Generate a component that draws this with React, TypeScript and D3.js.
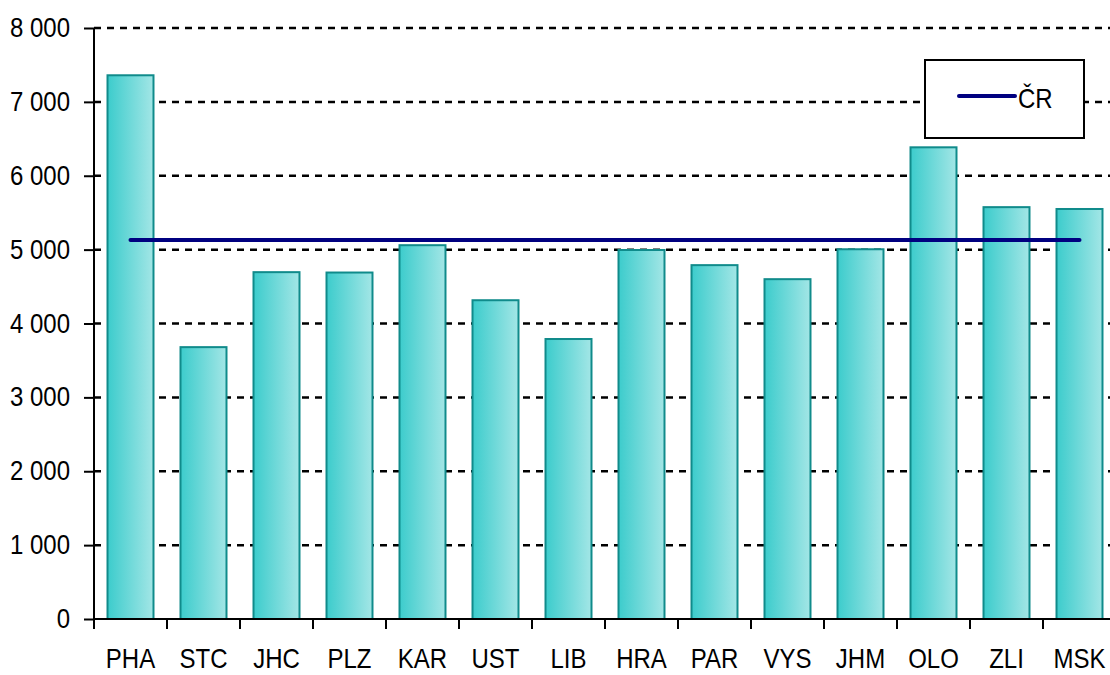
import React, { useEffect, useRef } from 'react'
import * as d3 from 'd3'

const regions = ['PHA', 'STC', 'JHC', 'PLZ', 'KAR', 'UST', 'LIB', 'HRA', 'PAR', 'VYS', 'JHM', 'OLO', 'ZLI', 'MSK']
const values = [7360, 3680, 4695, 4690, 5060, 4315, 3790, 4995, 4790, 4600, 5005, 6385, 5575, 5550]
const crValue = 5130
const yTicks = [0, 1000, 2000, 3000, 4000, 5000, 6000, 7000, 8000]

const W = 1110
const H = 675
const left = 94
const right = 1116
const top = 28
const bottom = 619
const font = 'Liberation Sans, Arial, sans-serif'
const stretch = 1.14

export default function App() {
  const svgRef = useRef<SVGSVGElement>(null)

  useEffect(() => {
    const svg = d3.select(svgRef.current)
    svg.selectAll('*').remove()

    const x = d3.scaleBand().domain(regions).range([left, right]).paddingInner(0.37).paddingOuter(0.185)
    const y = d3.scaleLinear().domain([0, 8000]).range([bottom, top])
    const fmt = (v: number) => d3.format(',')(v).replace(/,/g, ' ')

    const grad = svg.append('defs').append('linearGradient').attr('id', 'barGrad')
      .attr('x1', '0%').attr('x2', '100%').attr('y1', '0%').attr('y2', '0%')
    grad.append('stop').attr('offset', '0%').attr('stop-color', '#3ccccc')
    grad.append('stop').attr('offset', '100%').attr('stop-color', '#a3e6e6')

    // gridlines
    svg.append('g').selectAll('line').data(yTicks.filter(d => d > 0)).join('line')
      .attr('x1', left).attr('x2', right)
      .attr('y1', d => y(d)).attr('y2', d => y(d))
      .attr('stroke', '#000').attr('stroke-width', 2.5).attr('stroke-dasharray', '7 6')

    // bars
    svg.append('g').selectAll('rect').data(values).join('rect')
      .attr('x', (d, i) => x(regions[i])!)
      .attr('width', x.bandwidth())
      .attr('y', d => y(d))
      .attr('height', d => bottom - y(d))
      .attr('fill', 'url(#barGrad)')
      .attr('stroke', '#108b8b').attr('stroke-width', 2)

    // CR line
    const cx0 = x(regions[0])! + x.bandwidth() / 2
    const cx1 = x(regions[regions.length - 1])! + x.bandwidth() / 2
    svg.append('line')
      .attr('x1', cx0).attr('x2', cx1).attr('y1', y(crValue)).attr('y2', y(crValue))
      .attr('stroke', '#000080').attr('stroke-width', 4).attr('stroke-linecap', 'round')

    // y axis
    const yAxis = svg.append('g').attr('transform', `translate(${left},0)`)
      .call(d3.axisLeft(y).tickValues(yTicks).tickSize(10).tickFormat(() => ''))
    yAxis.select('.domain').attr('d', `M0,${top}V${bottom + 10}`).attr('stroke-width', 2)
    yAxis.selectAll('.tick line').attr('stroke-width', 2)
    svg.append('g').selectAll('text').data(yTicks).join('text')
      .attr('transform', d => `translate(${left - 24},${y(d) + 9}) scale(1,${stretch})`)
      .attr('text-anchor', 'end')
      .attr('font-family', font).attr('font-size', 24).attr('fill', '#000')
      .text(d => fmt(d))

    // x axis
    svg.append('line').attr('x1', left).attr('x2', right).attr('y1', bottom).attr('y2', bottom)
      .attr('stroke', '#000').attr('stroke-width', 2)
    const step = x.step()
    svg.append('g').selectAll('line').data(d3.range(1, regions.length)).join('line')
      .attr('x1', i => left + i * step).attr('x2', i => left + i * step)
      .attr('y1', bottom).attr('y2', bottom + 10)
      .attr('stroke', '#000').attr('stroke-width', 2)
    svg.append('g').selectAll('text').data(regions).join('text')
      .attr('transform', d => `translate(${x(d)! + x.bandwidth() / 2},668) scale(1,${stretch})`)
      .attr('text-anchor', 'middle')
      .attr('font-family', font).attr('font-size', 24).attr('fill', '#000')
      .text(d => d)

    // legend
    const lg = svg.append('g')
    lg.append('rect').attr('x', 925).attr('y', 60).attr('width', 159).attr('height', 78)
      .attr('fill', '#fff').attr('stroke', '#000').attr('stroke-width', 2)
    lg.append('line').attr('x1', 959).attr('x2', 1015).attr('y1', 96).attr('y2', 96)
      .attr('stroke', '#000080').attr('stroke-width', 4).attr('stroke-linecap', 'round')
    lg.append('text').attr('transform', `translate(1018,108) scale(1,${stretch})`).text('ČR')
      .attr('font-family', font).attr('font-size', 24).attr('fill', '#000')
  }, [])

  return (
    <svg ref={svgRef} width={W} height={H} style={{ position: 'absolute', left: 0, top: 0, background: '#fff' }} />
  )
}
